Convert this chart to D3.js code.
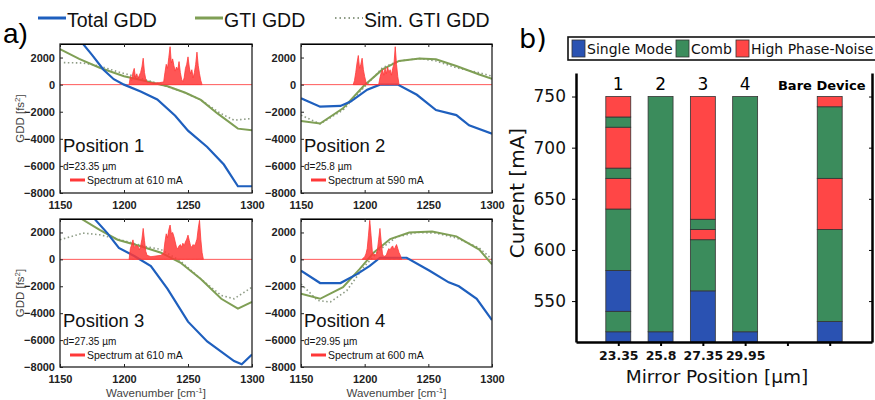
<!DOCTYPE html>
<html>
<head>
<meta charset="utf-8">
<script src="https://cdn.jsdelivr.net/npm/d3@7/dist/d3.min.js"></script>
<style>
body { margin: 0; background: #fff; }
text { font-family: "Liberation Sans", Arial, sans-serif; }
.pb text { font-family: "DejaVu Sans", Verdana, sans-serif; }
</style>
</head>
<body>
<div id="chart"></div>
<script>
// ---- panel a data ----
var wnTicks = [1150, 1200, 1250, 1300];
var gddTicks = [-8000, -6000, -4000, -2000, 0, 2000];
var posLabels = ['Position 1', 'Position 2', 'Position 3', 'Position 4'];
var mirrorD = ['23.35', '25.8', '27.35', '29.95'];
var specCurrent = [610, 590, 610, 600];

var total1 = [[1165,3700],[1168,3000],[1175,2200],[1184,1100],[1192,400],[1200,0],[1213,-500],[1226,-1100],[1240,-2300],[1250,-3400],[1265,-4600],[1278,-5900],[1289,-7500],[1300,-7500]];
var gti1 = [[1150,2625],[1165,1900],[1181,1250],[1200,625],[1215,300],[1234,-125],[1248,-600],[1260,-1125],[1273,-2125],[1289,-3250],[1300,-3375]];
var sim1 = [[1153,1625],[1168,1600],[1181,1375],[1195,950],[1208,625],[1229,0],[1245,-500],[1260,-1125],[1275,-2100],[1286,-2625],[1300,-2500]];
var spec1 = [[1204,0],[1205,600],[1206,300],[1207,900],[1208,1200],[1209,500],[1210,800],[1211,400],[1212,700],[1213,900],[1214,1300],[1215,1950],[1216,900],[1217,400],[1218,200],[1220,150],[1224,120],[1228,150],[1231,200],[1232,900],[1233,1500],[1234,1200],[1235,2000],[1236,2800],[1237,1600],[1238,1900],[1239,1400],[1240,1000],[1241,1300],[1242,1100],[1243,1700],[1244,900],[1245,400],[1246,200],[1247,500],[1248,1200],[1249,1500],[1250,2050],[1251,1300],[1252,800],[1253,1100],[1254,500],[1255,900],[1256,1500],[1257,2400],[1258,1400],[1259,800],[1260,300],[1261,0]];

var total2 = [[1150,-1000],[1165,-1625],[1181,-1575],[1189,-1250],[1202,-375],[1212,0],[1226,0],[1241,-750],[1256,-1875],[1272,-2250],[1282,-3000],[1300,-3625]];
var gti2 = [[1150,-2675],[1165,-2875],[1183,-1750],[1199,-125],[1214,1125],[1227,1750],[1243,1925],[1256,1875],[1272,1375],[1290,750],[1300,425]];
var sim2 = [[1150,-2250],[1165,-2900],[1183,-1875],[1199,-250],[1214,1250],[1227,1750],[1243,1925],[1256,1750],[1272,1250],[1290,875],[1300,625]];
var spec2 = [[1191,0],[1192,300],[1193,900],[1194,1600],[1195,2150],[1196,1200],[1197,1500],[1198,1950],[1199,1100],[1200,600],[1201,200],[1202,0],[1211,0],[1212,500],[1213,900],[1214,1100],[1215,700],[1216,1200],[1217,800],[1218,1300],[1219,900],[1220,1100],[1221,700],[1222,1200],[1223,1500],[1224,2800],[1225,1500],[1226,600],[1227,0]];

var total3 = [[1174,3800],[1177,3000],[1187,1950],[1196,850],[1208,250],[1221,-500],[1234,-2200],[1250,-4630],[1265,-6100],[1286,-7560],[1292,-7800],[1300,-7070]];
var gti3 = [[1164,3600],[1167,3000],[1181,2200],[1195,1460],[1213,975],[1229,490],[1244,-240],[1260,-1460],[1276,-2930],[1289,-3660],[1300,-3170]];
var sim3 = [[1150,1460],[1168,1950],[1181,1830],[1197,1460],[1216,975],[1229,730],[1244,-120],[1260,-1460],[1276,-2680],[1286,-2930],[1300,-2070]];
var spec3 = [[1204,0],[1205,800],[1206,1100],[1207,1450],[1208,900],[1209,1000],[1210,1050],[1211,950],[1212,700],[1213,1000],[1214,1500],[1215,2300],[1216,1400],[1217,600],[1218,300],[1221,200],[1225,250],[1229,300],[1231,500],[1232,1300],[1233,1900],[1234,1600],[1235,2200],[1236,2550],[1237,1900],[1238,2000],[1239,1700],[1240,1300],[1241,900],[1242,800],[1243,1000],[1244,1100],[1245,900],[1246,1200],[1247,1000],[1248,1300],[1249,1500],[1250,1800],[1251,1400],[1252,1000],[1253,900],[1254,1100],[1255,1000],[1256,1200],[1257,1500],[1258,2300],[1259,2900],[1260,1500],[1261,500],[1262,0]];

var total4 = [[1150,-850],[1165,-1760],[1181,-1760],[1194,-1100],[1204,-490],[1212,120],[1233,120],[1251,-850],[1266,-1710],[1274,-2000],[1288,-2930],[1300,-4510]];
var gti4 = [[1150,-2560],[1165,-2930],[1183,-2070],[1196,-730],[1207,490],[1220,1510],[1235,2000],[1253,2070],[1272,1710],[1290,730],[1300,-370]];
var sim4 = [[1150,-1830],[1163,-3050],[1173,-3170],[1186,-2320],[1199,-610],[1212,730],[1225,1660],[1241,2000],[1256,1950],[1272,1590],[1290,850],[1300,0]];
var spec4 = [[1198,0],[1200,200],[1201,400],[1202,800],[1203,1800],[1204,2900],[1205,1800],[1206,600],[1207,300],[1208,400],[1209,300],[1210,700],[1211,1500],[1212,2300],[1213,1300],[1214,400],[1215,200],[1217,300],[1218,600],[1219,800],[1220,700],[1221,900],[1222,1000],[1223,700],[1224,900],[1225,1100],[1226,800],[1227,500],[1228,300],[1229,0]];

var legendNames = ['Total GDD', 'GTI GDD', 'Sim. GTI GDD'];

// ---- panel b data ----
var barCats = ['1', '2', '3', '4', '5', 'Bare Device'];
var barTop = ['1', '2', '3', '4', '', 'Bare Device'];
var barTicks = ['23.35', '25.8', '27.35', '29.95', '', ''];
var currentTicks = [550, 600, 650, 700, 750];
var stateNames = ['Single Mode', 'Comb', 'High Phase-Noise'];
// [state, from mA, to mA]
var bar1 = [[0,510,520],[1,520,540],[0,540,580],[1,580,640],[2,640,670],[1,670,680],[2,680,720],[1,720,730],[2,730,750]];
var bar2 = [[0,510,520],[1,520,750]];
var bar3 = [[0,510,560],[1,560,610],[2,610,620],[1,620,630],[2,630,750]];
var bar4 = [[0,510,520],[1,520,750]];
var bar5 = [];
var barBare = [[0,510,530],[1,530,620],[2,620,670],[1,670,740],[2,740,750]];

var blue = '#1e5fbe', green = '#7f9f55', simCol = '#8e9c86', red = '#ff3838';
var stateCol = ['#2a52b2', '#3b8c5c', '#ff4646'];

var svg = d3.select('#chart').append('svg')
   .attr('width', 875).attr('height', 400);

// panel labels
svg.append('text').attr('x', 3).attr('y', 43).style('font-size', '28px').text('a)');

// top legend
var legX = [38, 195, 335];
legendNames.forEach(function(n, i) {
   var l = svg.append('line')
      .attr('x1', legX[i]).attr('x2', legX[i] + 28)
      .attr('y1', 18).attr('y2', 18)
      .attr('stroke', [blue, green, simCol][i])
      .attr('stroke-width', i == 2 ? 2 : 3);
   if (i == 2) l.attr('stroke-dasharray', '1.5,3');
   svg.append('text').attr('x', legX[i] + 29).attr('y', 27)
      .style('font-size', '19.5px').style('fill', '#111').text(n);
});

var boxes = [
   {l: 60, r: 252, t: 44, b: 193},
   {l: 301, r: 492, t: 44, b: 193},
   {l: 60, r: 252, t: 219, b: 367},
   {l: 301, r: 492, t: 219, b: 367}
];
var totals = [total1, total2, total3, total4];
var gtis = [gti1, gti2, gti3, gti4];
var sims = [sim1, sim2, sim3, sim4];
var specs = [spec1, spec2, spec3, spec4];

for (var k = 0; k < 4; k++) {
   drawGDD(svg, k, boxes[k], totals[k], gtis[k], sims[k], specs[k]);
}

function drawGDD(svg, k, box, total, gti, sim, spec) {
   var x = d3.scaleLinear().domain([1150, 1300]).range([box.l, box.r]);
   var y = d3.scaleLinear().domain([-8000, 3000]).range([box.b, box.t]);
   var g = svg.append('g');

   g.append('clipPath').attr('id', 'clip' + k)
      .append('rect').attr('x', box.l).attr('y', box.t)
      .attr('width', box.r - box.l).attr('height', box.b - box.t);

   var plot = g.append('g').attr('clip-path', 'url(#clip' + k + ')');

   // zero line of the spectrum
   plot.append('line')
      .attr('x1', x(1150)).attr('x2', x(1300))
      .attr('y1', y(0)).attr('y2', y(0))
      .attr('stroke', '#ff5a5a').attr('stroke-width', 1);

   var line = d3.line().x(function(d) { return x(d[0]); }).y(function(d) { return y(d[1]); });

   plot.append('path').attr('d', line(sim)).attr('fill', 'none')
      .attr('stroke', simCol).attr('stroke-width', 1.6).attr('stroke-dasharray', '1.5,2.5');
   plot.append('path').attr('d', line(gti)).attr('fill', 'none')
      .attr('stroke', green).attr('stroke-width', 2);
   plot.append('path').attr('d', line(total)).attr('fill', 'none')
      .attr('stroke', blue).attr('stroke-width', 2.2);

   var area = d3.area()
      .x(function(d) { return x(d[0]); })
      .y0(y(0))
      .y1(function(d) { return y(d[1]); });
   plot.append('path').attr('d', area(spec))
      .attr('fill', red).attr('fill-opacity', 0.85)
      .attr('stroke', red).attr('stroke-width', 0.8);

   // frame + axes
   g.append('rect').attr('x', box.l).attr('y', box.t)
      .attr('width', box.r - box.l).attr('height', box.b - box.t)
      .attr('fill', 'none').attr('stroke', '#222').attr('stroke-width', 1.3);

   var xa = g.append('g').attr('transform', 'translate(0,' + box.b + ')')
      .call(d3.axisBottom(x).tickValues(wnTicks).tickSize(-3).tickSizeOuter(0).tickPadding(8).tickFormat(d3.format('d')));
   var ya = g.append('g').attr('transform', 'translate(' + box.l + ',0)')
      .call(d3.axisLeft(y).tickValues(gddTicks).tickSize(-3).tickSizeOuter(0).tickPadding(5).tickFormat(d3.format('d')));
   g.append('g').attr('transform', 'translate(0,' + box.t + ')')
      .call(d3.axisTop(x).tickValues(wnTicks).tickSize(-3).tickSizeOuter(0).tickFormat(''));
   [xa, ya].forEach(function(a) {
      a.select('.domain').remove();
      a.selectAll('text').style('font-size', '11px').style('font-weight', 'bold')
         .style('font-family', '"Liberation Sans", Arial, sans-serif').attr('fill', '#222');
   });
   g.selectAll('.tick line').attr('stroke', '#222');

   // in-plot labels
   g.append('text').attr('x', box.l + 3).attr('y', box.t + 108)
      .style('font-size', '18.5px').style('fill', '#111').text(posLabels[k]);
   g.append('text').attr('x', box.l + 3).attr('y', box.t + 126)
      .style('font-size', '10px').style('fill', '#111').text('d=' + mirrorD[k] + ' µm');
   g.append('line').attr('x1', box.l + 10).attr('x2', box.l + 25)
      .attr('y1', box.t + 136).attr('y2', box.t + 136)
      .attr('stroke', red).attr('stroke-width', 3);
   g.append('text').attr('x', box.l + 27).attr('y', box.t + 140)
      .style('font-size', '10.5px').style('fill', '#111').text('Spectrum at ' + specCurrent[k] + ' mA');

   if (k % 2 == 0) {
      var yl = g.append('text')
         .attr('transform', 'translate(24,' + ((box.t + box.b) / 2) + ') rotate(-90)')
         .attr('text-anchor', 'middle')
         .style('font-size', '11.5px').style('fill', '#444');
      yl.append('tspan').text('GDD [fs');
      yl.append('tspan').attr('dy', -4).style('font-size', '8px').text('2');
      yl.append('tspan').attr('dy', 4).text(']');
   }
   if (k >= 2) {
      var xl = g.append('text')
         .attr('x', (box.l + box.r) / 2).attr('y', 397)
         .attr('text-anchor', 'middle')
         .style('font-size', '11.5px').style('fill', '#444');
      xl.append('tspan').text('Wavenumber [cm');
      xl.append('tspan').attr('dy', -4).style('font-size', '8px').text('-1');
      xl.append('tspan').attr('dy', 4).text(']');
   }
}

// ---- panel b ----
var pb = svg.append('g').attr('class', 'pb');
pb.append('text').attr('x', 519).attr('y', 48).style('font-size', '27px').text('b)');

var xb = d3.scalePoint().domain(barCats).range([576, 872]).padding(1);
var yb = d3.scaleLinear().domain([510, 773]).range([342, 73]);
var barW = xb.step() * 0.59;
var bars = [bar1, bar2, bar3, bar4, bar5, barBare];

bars.forEach(function(segs, i) {
   pb.selectAll('.seg' + i)
      .data(segs)
      .enter().append('rect')
      .attr('class', 'seg' + i)
      .attr('x', xb(barCats[i]) - barW / 2)
      .attr('width', barW)
      .attr('y', function(d) { return yb(d[2]); })
      .attr('height', function(d) { return yb(d[1]) - yb(d[2]); })
      .attr('fill', function(d) { return stateCol[d[0]]; })
      .attr('stroke', '#333').attr('stroke-width', 0.8);
});

// numbers above bars
pb.selectAll('.barTop')
   .data(barCats)
   .enter().append('text')
   .attr('class', 'barTop')
   .attr('x', function(d, i) { return xb(d) + (i == 5 ? -8 : 0); })
   .attr('y', 90)
   .attr('text-anchor', 'middle')
   .style('font-size', function(d, i) { return i == 5 ? '13px' : '17px'; })
   .style('font-weight', function(d, i) { return i == 5 ? 'bold' : 'normal'; })
   .text(function(d, i) { return barTop[i]; });

var la = pb.append('g').attr('transform', 'translate(576,0)')
   .call(d3.axisLeft(yb).tickValues(currentTicks).tickSize(4).tickSizeOuter(0).tickPadding(6));
la.select('.domain').attr('stroke', '#000').attr('stroke-width', 2.5);
la.selectAll('text').style('font-size', '17px').attr('fill', '#111');

var ba = pb.append('g').attr('transform', 'translate(0,342)')
   .call(d3.axisBottom(xb).tickSize(4).tickSizeOuter(0).tickPadding(5)
      .tickFormat(function(d, i) { return barTicks[i]; }));
ba.select('.domain').attr('stroke', '#000').attr('stroke-width', 2.5);
ba.selectAll('text').style('font-size', '12.5px').style('font-weight', 'bold').attr('fill', '#111');
ba.selectAll('.tick line').attr('stroke-width', 2);

var ra = pb.append('g').attr('transform', 'translate(872,0)')
   .call(d3.axisRight(yb).tickValues(currentTicks).tickSize(-3).tickSizeOuter(0).tickFormat(''));
ra.select('.domain').attr('stroke', '#000').attr('stroke-width', 2.5);

pb.append('text')
   .attr('transform', 'translate(524,193) rotate(-90)')
   .attr('text-anchor', 'middle')
   .style('font-size', '20px').style('fill', '#111')
   .text('Current [mA]');
pb.append('text')
   .attr('x', 717).attr('y', 383)
   .attr('text-anchor', 'middle')
   .style('font-size', '18.5px').style('fill', '#111')
   .text('Mirror Position [µm]');

// legend box
pb.append('rect').attr('x', 568).attr('y', 37).attr('width', 320).attr('height', 23)
   .attr('fill', 'none').attr('stroke', '#111').attr('stroke-width', 1.6);
var swX = [572, 676, 736];
stateNames.forEach(function(n, i) {
   pb.append('rect').attr('x', swX[i]).attr('y', 40).attr('width', 13).attr('height', 17)
      .attr('fill', stateCol[i]).attr('stroke', '#333').attr('stroke-width', 0.8);
   pb.append('text').attr('x', swX[i] + 15).attr('y', 54)
      .style('font-size', '14px').style('fill', '#111').text(n);
});
</script>
</body>
</html>
